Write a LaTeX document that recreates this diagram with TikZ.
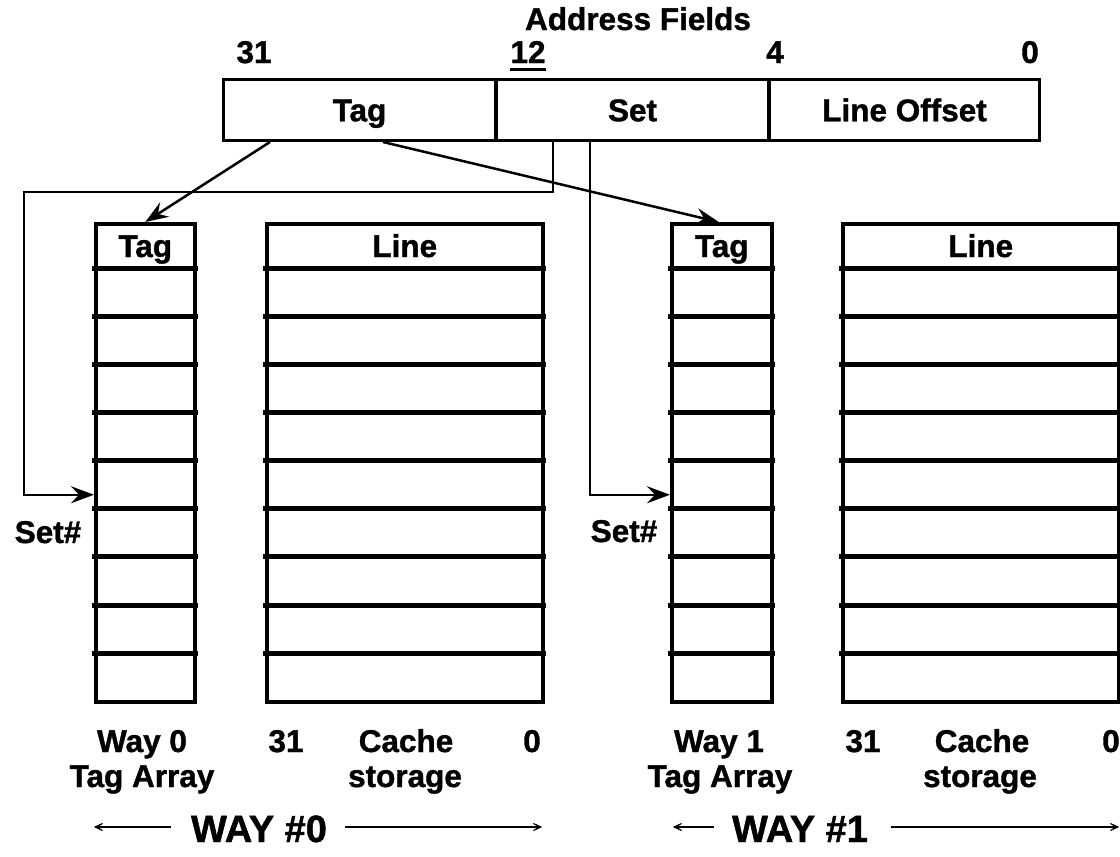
\documentclass[tikz,border=0pt]{standalone}
\usepackage{fontspec}
\setmainfont{Liberation Sans}[BoldFeatures={FakeBold=1.2}]
\usetikzlibrary{arrows.meta,calc}
\begin{document}
\begin{tikzpicture}[x=1pt,y=-1pt,
  lbl/.style={font=\bfseries\fontsize{31.5}{33}\selectfont, inner sep=0pt, anchor=base},
  big/.style={font=\bfseries\fontsize{38}{40}\selectfont, inner sep=0pt, anchor=base},
  field/.style={draw, line width=3pt, minimum height=61pt, inner sep=0pt, anchor=north west,
    font=\bfseries\fontsize{31.5}{33}\selectfont, text height=22.5pt, text depth=0pt},
  arrbox/.style={draw, rectangle, line width=3.5pt, anchor=north west, inner sep=0pt, minimum height=478pt},
  sepline/.style={line width=5pt},
  conn/.style={line width=2.5pt},
  tipa/.style={-{Stealth[length=23pt,width=17pt,inset=8pt]}},
  waytip/.style={line width=2.5pt,-{Stealth[length=16pt,width=15pt,inset=12pt]}}]

\useasboundingbox (0,0) rectangle (1120,857);

% address fields
\node[lbl] (addr) at (638,30) {Address Fields};
\node[lbl] (b31) at (254,63) {31};
\node[lbl] (b12) at (528,63) {12};
\draw[line width=3pt] ([yshift=-6.5pt]b12.base west) -- ([yshift=-6.5pt]b12.base east);
\node[lbl] (b4) at (775,63) {4};
\node[lbl] (b0) at (1030,63) {0};

\node[field, minimum width=272pt] (fTag) at (222,78) {Tag};
\node[field, minimum width=272pt] (fSet) at (495,78) {Set};
\node[field, minimum width=270pt] (fOff) at (768,78) {Line Offset};

% arrays
\node[arrbox, minimum width=99pt]  (tag0)  at (94,222) {};
\node[arrbox, minimum width=276pt] (line0) at (265,222) {};
\node[arrbox, minimum width=100pt] (tag1)  at (670,222) {};
\node[arrbox, minimum width=276pt] (line1) at (841,222) {};

\foreach \b in {tag0,line0,tag1,line1}{
  \foreach \k in {0,...,8}{
    \pgfmathsetmacro{\yy}{268+48.15*\k}
    \draw[sepline] ([xshift=-1.75pt]\b.west |- 0,\yy) -- ([xshift=1.75pt]\b.east |- 0,\yy);
  }
}

\node[lbl] (h0) at ([yshift=-35pt]tag0.north) {Tag};
\node[lbl] (hl0) at ([yshift=-35pt]line0.north) {Line};
\node[lbl] (h1) at ([yshift=-35pt]tag1.north) {Tag};
\node[lbl] (hl1) at ([yshift=-35pt]line1.north) {Line};

\node[lbl] (s0) at (48,543) {Set\#};
\node[lbl] (s1) at (624,542) {Set\#};

% connectors
\draw[conn,tipa] ([xshift=48pt]fTag.south west) -- (tag0.north);
\draw[conn,tipa] ([xshift=161pt]fTag.south west) -- ([xshift=-3pt]tag1.north);
\draw[conn,tipa] ([xshift=58pt]fSet.south west) -- ++(0,50) -- ++(-529,0)
   |- ([yshift=-32pt]tag0.west);
\draw[conn,tipa] ([xshift=95pt]fSet.south west) |- ([yshift=-32pt]tag1.west);

% bottom labels way 0
\node[lbl] (w0a) at (142,752) {Way 0};
\node[lbl] (w0b) at (142,787) {Tag Array};
\node[lbl] (c31a) at (286,752) {31};
\node[lbl] (c0a) at (406,752) {Cache};
\node[lbl] (c0b) at (405,787) {storage};
\node[lbl] (z0) at (532,752) {0};
\node[big] (W0) at (259,842) {WAY \#0};
\draw[waytip] ([xshift=-20pt,yshift=15pt]W0.base west) -- ++(-77,0);
\draw[waytip] ([xshift=18pt,yshift=15pt]W0.base east) -- ++(197,0);

% bottom labels way 1
\node[lbl] (w1a) at (719,752) {Way 1};
\node[lbl] (w1b) at (720,787) {Tag Array};
\node[lbl] (c31b) at (863,752) {31};
\node[lbl] (c1a) at (982,752) {Cache};
\node[lbl] (c1b) at (980,787) {storage};
\node[lbl] (z1) at (1111,752) {0};
\node[big] (W1) at (800,842) {WAY \#1};
\draw[waytip] ([xshift=-18pt,yshift=15pt]W1.base west) -- ++(-41,0);
\draw[waytip] ([xshift=23pt,yshift=15pt]W1.base east) -- ++(228,0);
\end{tikzpicture}
\end{document}
